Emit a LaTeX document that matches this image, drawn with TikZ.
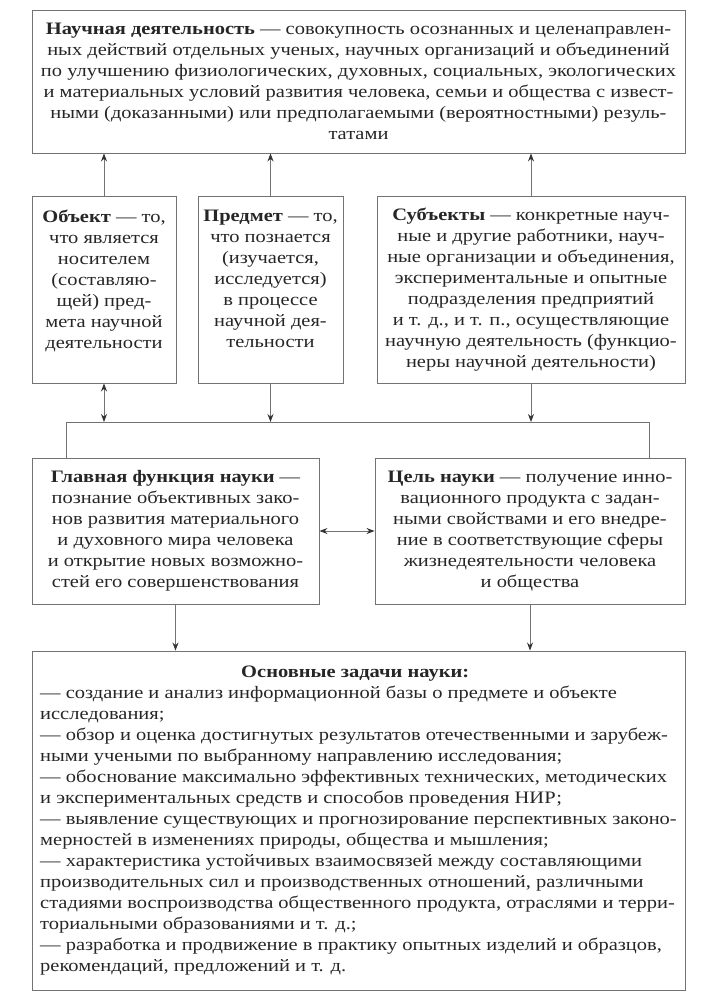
\documentclass[tikz,border=0pt]{standalone}
\usepackage{fontspec}
\setmainfont{Liberation Serif}[FakeStretch=1.17]
\usetikzlibrary{arrows.meta,positioning}

\tikzset{
  box/.style={rectangle, draw=black!55, line width=0.9pt, inner sep=0pt,
    align=center, text=black!85, font=\fontsize{17.5}{21}\selectfont},
  line/.style={draw=black!55, line width=0.9pt},
  link/.style={line, -{Stealth[length=8pt,width=6pt,color=black!80]}},
  twoway/.style={line, {Stealth[length=8pt,width=6pt,color=black!80]}-{Stealth[length=8pt,width=6pt,color=black!80]}},
}

\begin{document}
\begin{tikzpicture}[x=1pt,y=-1pt]
  \useasboundingbox (0,0) rectangle (720,1000);

  \node(act)[box, minimum width=653pt, minimum height=143pt] at (358.5,81.5)
    {\textbf{Научная деятельность} — совокупность осознанных и целенаправлен-\\
     ных действий отдельных ученых, научных организаций и объединений\\
     по улучшению физиологических, духовных, социальных, экологических\\
     и материальных условий развития человека, семьи и общества с извест-\\
     ными (доказанными) или предполагаемыми (вероятностными) резуль-\\
     татами};

  \node(obj)[box, minimum width=144pt, minimum height=187pt] at (104,289.5)
    {\textbf{Объект} — то,\\ что является\\ носителем\\ (составляю-\\
     щей) пред-\\ мета научной\\ деятельности\\ \mbox{}};
  \node(pred)[box, minimum width=145pt, minimum height=187pt] at (270.5,289.5)
    {\textbf{Предмет} — то,\\ что познается\\ (изучается,\\ исследуется)\\
     в процессе\\ научной дея-\\ тельности\\ \mbox{}};
  \node(subj)[box, minimum width=308pt, minimum height=187pt] at (531,289.5)
    {\textbf{Субъекты} — конкретные науч-\\ ные и другие работники, науч-\\
     ные организации и объединения,\\ экспериментальные и опытные\\
     подразделения предприятий\\ и т. д., и т. п., осуществляющие\\
     научную деятельность (функцио-\\ неры научной деятельности)};

  \node(glav)[box, minimum width=287pt, minimum height=146pt] at (175.5,531)
    {\textbf{Главная функция науки} —\\ познание объективных зако-\\
     нов развития материального\\ и духовного мира человека\\
     и открытие новых возможно-\\ стей его совершенствования};
  \node(goal)[box, minimum width=310pt, minimum height=146pt] at (530,531)
    {\textbf{Цель науки} — получение инно-\\ вационного продукта с задан-\\
     ными свойствами и его внедре-\\ ние в соответствующие сферы\\
     жизнедеятельности человека\\ и общества};

  \node(tasks)[box, align=left, minimum width=653pt, minimum height=339pt] at (358.5,820.5)
    {\makebox[630pt]{\textbf{Основные задачи науки:}}\\
     — создание и анализ информационной базы о предмете и объекте\\
     исследования;\\
     — обзор и оценка достигнутых результатов отечественными и зарубеж-\\
     ными учеными по выбранному направлению исследования;\\
     — обоснование максимально эффективных технических, методических\\
     и экспериментальных средств и способов проведения НИР;\\
     — выявление существующих и прогнозирование перспективных законо-\\
     мерностей в изменениях природы, общества и мышления;\\
     — характеристика устойчивых взаимосвязей между составляющими\\
     производительных сил и производственных отношений, различными\\
     стадиями воспроизводства общественного продукта, отраслями и терри-\\
     ториальными образованиями и т. д.;\\
     — разработка и продвижение в практику опытных изделий и образцов,\\
     рекомендаций, предложений и т. д.};

  \coordinate(busl) at (66,422);
  \coordinate(busr) at (649,422);

  \draw[link] (obj.north) -- (obj.north |- act.south);
  \draw[link] (pred.north) -- (pred.north |- act.south);
  \draw[link] (subj.north) -- (subj.north |- act.south);

  \draw[twoway] (obj.south) -- (obj.south |- busl);
  \draw[link] (pred.south) -- (pred.south |- busl);
  \draw[link] (subj.south) -- (subj.south |- busl);
  \draw[line] (busl |- glav.north) -- (busl) -- (busr) -- (busr |- goal.north);

  \draw[twoway] (glav.east) -- (goal.west);
  \draw[link] (glav.south) -- (glav.south |- tasks.north);
  \draw[link] (goal.south) -- (goal.south |- tasks.north);
\end{tikzpicture}
\end{document}
